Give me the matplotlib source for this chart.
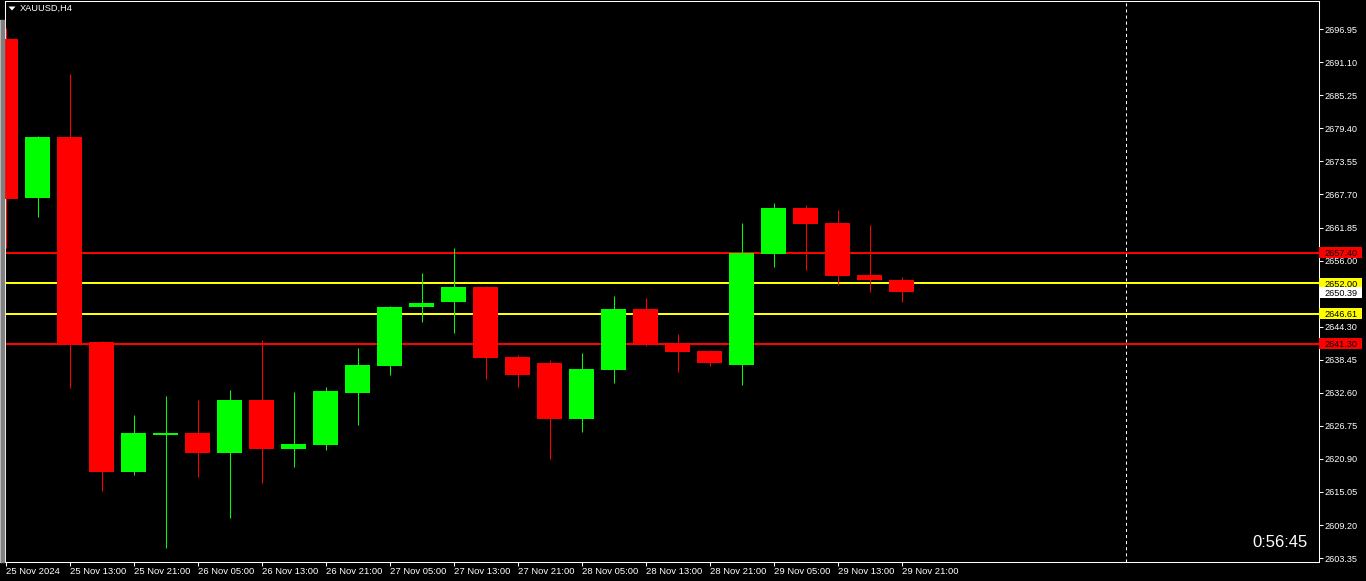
import matplotlib
matplotlib.use("Agg")
import matplotlib.pyplot as plt
from matplotlib.patches import Rectangle, Polygon
import numpy as np

# ---------------- data ----------------
symbol_label = "XAUUSD,H4"
countdown = "0:56:45"

opens = [2695.3, 2667.1, 2677.9, 2641.6, 2618.6, 2625.2, 2625.4, 2621.9, 2631.3, 2622.7,
         2623.4, 2632.5, 2637.4, 2647.7, 2648.6, 2651.3, 2638.9, 2637.9, 2628.0, 2636.7,
         2647.4, 2641.3, 2640.0, 2637.6, 2657.2, 2665.3, 2662.6, 2653.4, 2652.6]
highs = [2697.2, 2678.0, 2689.0, 2641.8, 2628.7, 2632.1, 2631.4, 2633.1, 2642.0, 2632.8,
         2633.6, 2640.5, 2648.0, 2653.8, 2658.2, 2651.5, 2639.3, 2638.4, 2639.7, 2649.7,
         2649.4, 2643.0, 2640.1, 2662.7, 2666.2, 2665.8, 2665.0, 2662.3, 2653.1]
lows = [2658.2, 2663.7, 2633.5, 2615.3, 2618.1, 2605.1, 2617.7, 2610.5, 2616.7, 2619.5,
        2622.5, 2626.9, 2635.8, 2645.2, 2643.1, 2635.1, 2633.7, 2620.8, 2625.6, 2634.4,
        2640.8, 2636.2, 2637.4, 2633.9, 2654.8, 2654.4, 2651.7, 2650.5, 2648.6]
closes = [2666.9, 2677.9, 2641.3, 2618.6, 2625.4, 2625.5, 2621.9, 2631.3, 2622.7, 2623.6,
          2632.9, 2637.5, 2647.8, 2648.5, 2651.3, 2638.8, 2635.8, 2628.0, 2636.8, 2647.4,
          2641.3, 2639.9, 2637.8, 2657.3, 2665.3, 2662.5, 2653.3, 2652.6, 2650.39]

time_labels = ["25 Nov 2024", "25 Nov 13:00", "25 Nov 21:00", "26 Nov 05:00", "26 Nov 13:00",
               "26 Nov 21:00", "27 Nov 05:00", "27 Nov 13:00", "27 Nov 21:00", "28 Nov 05:00",
               "28 Nov 13:00", "28 Nov 21:00", "29 Nov 05:00", "29 Nov 13:00", "29 Nov 21:00"]
time_label_bars = [0, 2, 4, 6, 8, 10, 12, 14, 16, 18, 20, 22, 24, 26, 28]

price_ticks = [2696.95, 2691.10, 2685.25, 2679.40, 2673.55, 2667.70, 2661.85, 2656.00,
               2650.15, 2644.30, 2638.45, 2632.60, 2626.75, 2620.90, 2615.05, 2609.20, 2603.35]

level_values = [2657.40, 2652.00, 2646.61, 2641.30]
level_colors = ["#FF0000", "#FFFF00", "#FFFF00", "#FF0000"]
current_price = 2650.39
shift_bar = 35

# ---------------- layout ----------------
W, H = 1366, 581
BULL, BEAR = "#00FF00", "#FF0000"
plt.rcParams["font.family"] = ["Liberation Sans", "DejaVu Sans"]
plt.rcParams["lines.scale_dashes"] = False

fig = plt.figure(figsize=(W / 100, H / 100), dpi=100, facecolor="black")

def fig_rect(left, top, right, bottom):
    return [left / W, 1 - bottom / H, (right - left) / W, (bottom - top) / H]

AX_L, AX_R, AX_T, AX_B = 4.5, 1318.5, 0.5, 561.5
ax = fig.add_axes(fig_rect(AX_L, AX_T, AX_R, AX_B))
ax.set_facecolor("black")

ymin, ymax = 2602.74, 2702.03
ax.set_ylim(ymin, ymax)
ax.set_xlim((AX_L - 5.5) / 32, (AX_R - 5.5) / 32)

idx = np.arange(len(opens))
o = np.array(opens); c = np.array(closes)
cols = [BULL if cc >= oo else BEAR for oo, cc in zip(o, c)]

# level lines (under candles)
for v, col in zip(level_values, level_colors):
    ax.axhline(v, color=col, lw=1.44, zorder=1)

# wicks and bodies
ax.vlines(idx, lows, highs, colors=cols, lw=0.75, zorder=2)
bottoms = np.minimum(o, c)
heights = np.maximum(np.abs(c - o), 0.12)
ax.bar(idx, heights, bottom=bottoms, width=0.78, color=cols, linewidth=0, zorder=3)

# shift separator
ax.axvline(shift_bar, color="white", lw=0.75, linestyle=(0, (2.2, 2.2)), zorder=1)

for sp in ax.spines.values():
    sp.set_color("white")
    sp.set_linewidth(0.75)

ax.yaxis.tick_right()
ax.set_yticks(price_ticks)
ax.set_yticklabels([f"{v:.2f}" for v in price_ticks])
ax.tick_params(axis="y", colors="white", length=2.6, width=0.75, direction="out",
               pad=1.4, labelsize=6.6)
for lbl in ax.get_yticklabels():
    lbl.set_horizontalalignment("left")

ax.set_xticks(time_label_bars)
ax.set_xticklabels(time_labels)
ax.tick_params(axis="x", colors="white", length=2.6, width=0.75, direction="out",
               pad=1.2, labelsize=6.8)
for lbl in ax.get_xticklabels():
    lbl.set_horizontalalignment("left")

# price-scale overlay boxes
axr = fig.add_axes(fig_rect(AX_R, AX_T, W, AX_B), zorder=5)
axr.set_xlim(AX_R, W)
axr.set_ylim(ymin, ymax)
axr.axis("off")
axr.patch.set_alpha(0)
half_h = 5.5 * (ymax - ymin) / (AX_B - AX_T)
box_items = list(zip(level_values, level_colors)) + [(current_price, "#FFFFFF")]
for v, col in box_items:
    axr.add_patch(Rectangle((1319, v - half_h), 43, 2 * half_h, facecolor=col,
                            edgecolor="none", clip_on=False))
    axr.text(1324.3, v, f"{v:.2f}", color="black", fontsize=6.6, ha="left",
             va="center_baseline", clip_on=False)

# left window border strip
fig.patches.append(Rectangle((0, 1 - AX_B / H), 1 / W, (AX_B - 20) / H,
                             transform=fig.transFigure, color="#c8c8c8"))
fig.patches.append(Rectangle((1 / W, 1 - AX_B / H), 3 / W, (AX_B - 20) / H,
                             transform=fig.transFigure, color="#808080"))

# symbol label and triangle
tri = [(8.5 / W, 1 - 6.5 / H), (15.5 / W, 1 - 6.5 / H), (12 / W, 1 - 10.5 / H)]
fig.patches.append(Polygon(tri, closed=True, transform=fig.transFigure,
                           facecolor="white", edgecolor="none"))
fig.text(19.5 / W, 1 - 11.2 / H, symbol_label, color="white", fontsize=6.7,
         ha="left", va="baseline")

# countdown
fig.text(1307.5 / W, 1 - 546.8 / H, countdown, color="white", fontsize=12,
         ha="right", va="baseline")

fig.savefig("out.png", dpi=100, facecolor="black")
